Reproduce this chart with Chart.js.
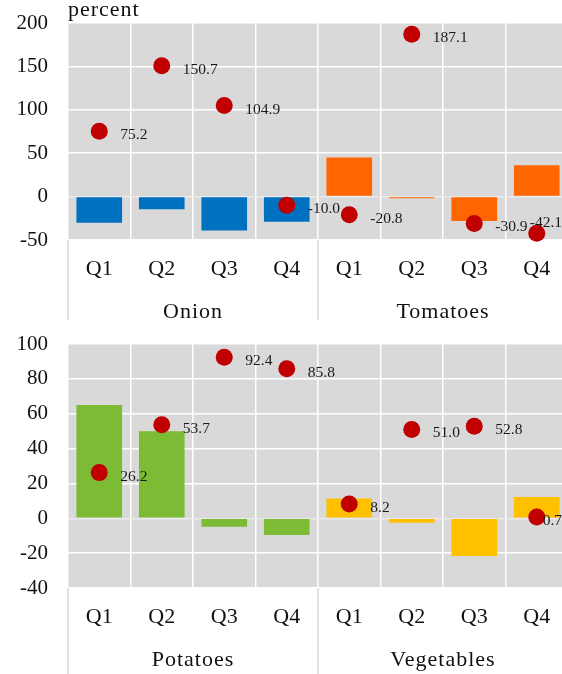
<!DOCTYPE html>
<html>
<head>
<meta charset="utf-8">
<script src="https://cdn.jsdelivr.net/npm/chart.js@4.4.1/dist/chart.umd.min.js"></script>
<style>
  html, body { margin: 0; padding: 0; background: #fff; overflow: hidden; }
  #wrap { width: 562px; height: 674px; overflow: hidden; position: relative; }
  canvas { position: absolute; left: 0; display: block; }
</style>
</head>
<body>
<div id="wrap">
  <canvas id="topChart" width="568" height="330" style="top:0;width:568px;height:330px"></canvas>
  <canvas id="bottomChart" width="568" height="344" style="top:330px;width:568px;height:344px"></canvas>
</div>
<script>
// Quarterly changes (bars) and year-on-year changes (dots), percent
const quarters = ['Q1', 'Q2', 'Q3', 'Q4'];
const topGroups = ['Onion', 'Tomatoes'];
const bottomGroups = ['Potatoes', 'Vegetables'];

const onionBars = [-30, -14.5, -39, -29];
const onionDots = [75.2, 150.7, 104.9, -10.0];
const tomatoBars = [45, -2, -28, 36];
const tomatoDots = [-20.8, 187.1, -30.9, -42.1];

const potatoBars = [65, 50, -4.8, -9.6];
const potatoDots = [26.2, 53.7, 92.4, 85.8];
const vegBars = [11.3, -2.5, -21.7, 12.2];
const vegDots = [8.2, 51.0, 52.8, 0.7];

const topTicks = { min: -50, max: 200, step: 50 };
const bottomTicks = { min: -40, max: 100, step: 20 };

const FONT = '"Liberation Serif", "DejaVu Serif", serif';
const VISIBLE_WIDTH = 562;

// Gray plotting area
const plotBackground = {
  id: 'plotBackground',
  beforeDraw(chart) {
    const { ctx, chartArea: a } = chart;
    ctx.save();
    ctx.letterSpacing = '0px';
    ctx.fillStyle = '#d9d9d9';
    ctx.fillRect(a.left, a.top, a.right - a.left, a.bottom - a.top);
    ctx.restore();
  }
};

// Group names under the quarter labels, plus separators between groups
const groupAxis = {
  id: 'groupAxis',
  afterDraw(chart, args, opts) {
    const { ctx, chartArea: a, scales: { x } } = chart;
    const groups = opts.groups;
    const n = quarters.length;
    ctx.save();
    ctx.strokeStyle = '#d9d9d9';
    ctx.lineWidth = 1.5;
    const edges = [];
    for (let g = 0; g <= groups.length; g++) {
      const i = g * n;
      let px;
      if (i === 0) px = a.left;
      else if (i >= x.ticks.length) px = a.right;
      else px = (x.getPixelForValue(i - 1) + x.getPixelForValue(i)) / 2;
      edges.push(px);
      ctx.beginPath();
      ctx.moveTo(px, a.bottom);
      ctx.lineTo(px, a.bottom + opts.sepLength);
      ctx.stroke();
    }
    ctx.fillStyle = '#111';
    ctx.font = '22px ' + FONT;
    ctx.letterSpacing = '1px';
    ctx.textAlign = 'center';
    ctx.textBaseline = 'middle';
    groups.forEach((name, g) => {
      const c = (edges[g] + edges[g + 1]) / 2;
      ctx.fillText(name, c, a.bottom + 72);
    });
    if (opts.unit) {
      ctx.textAlign = 'left';
      ctx.textBaseline = 'alphabetic';
      ctx.fillText(opts.unit, a.left, 16);
    }
    ctx.letterSpacing = '0px';
    ctx.restore();
  }
};

// Value labels beside the dots
const dotLabels = {
  id: 'dotLabels',
  afterDatasetsDraw(chart) {
    const { ctx } = chart;
    const meta = chart.getDatasetMeta(0);
    const values = chart.data.datasets[0].data;
    ctx.save();
    ctx.letterSpacing = '0px';
    ctx.font = '15.5px ' + FONT;
    ctx.fillStyle = '#1a1a1a';
    ctx.textBaseline = 'middle';
    ctx.textAlign = 'left';
    meta.data.forEach((pt, i) => {
      const text = values[i].toFixed(1);
      const w = ctx.measureText(text).width;
      let lx = pt.x + 21;
      let ly = pt.y + 4;
      const over = lx + w - VISIBLE_WIDTH;
      if (over > 0) {
        lx -= over;
        if (over > 20) ly = pt.y - 10;
      }
      ctx.fillText(text, lx, ly);
    });
    ctx.restore();
  }
};

function makeChart(id, groups, bars, dots, colors, range, pad, axisHeight, sepLength, unit) {
  const labels = groups.flatMap(() => quarters);
  const barData = bars.flat();
  const dotData = dots.flat();
  const barColors = barData.map((_, i) => colors[Math.floor(i / quarters.length)]);
  return new Chart(document.getElementById(id), {
    data: {
      labels,
      datasets: [
        {
          type: 'line',
          data: dotData,
          showLine: false,
          pointRadius: 8.5,
          pointHoverRadius: 8.5,
          pointBackgroundColor: '#c00000',
          pointBorderWidth: 0,
          clip: false,
          order: 0
        },
        {
          type: 'bar',
          data: barData,
          backgroundColor: barColors,
          borderWidth: 0,
          categoryPercentage: 1,
          barPercentage: 0.73,
          order: 1
        }
      ]
    },
    options: {
      responsive: false,
      animation: false,
      events: [],
      devicePixelRatio: 1,
      layout: { autoPadding: false, padding: { top: pad, left: 0, right: 0, bottom: 0 } },
      plugins: {
        legend: { display: false },
        tooltip: { enabled: false },
        groupAxis: { groups, sepLength, unit }
      },
      scales: {
        x: {
          type: 'category',
          offset: true,
          border: { display: false },
          grid: { offset: true, color: '#ffffff', lineWidth: 1.5, drawTicks: false },
          ticks: { color: '#111', font: { family: FONT, size: 22 }, padding: 16, maxRotation: 0, autoSkip: false },
          afterFit(axis) {
            axis.height = axisHeight;
            axis.paddingLeft = 0;
            axis.paddingRight = 0;
          }
        },
        y: {
          min: range.min,
          max: range.max,
          border: { display: false },
          grid: {
            color: (c) => (c.tick && c.tick.value === 0 ? '#ebebeb' : '#ffffff'),
            lineWidth: 1.5,
            drawTicks: false
          },
          ticks: { stepSize: range.step, color: '#111', font: { family: FONT, size: 21 }, padding: 20 },
          afterFit(axis) {
            axis.width = 68;
            axis.paddingTop = 0;
            axis.paddingBottom = 0;
          }
        }
      }
    },
    plugins: [plotBackground, groupAxis, dotLabels]
  });
}

makeChart('topChart', topGroups, [onionBars, tomatoBars], [onionDots, tomatoDots],
  ['#0070c0', '#ff6600'], topTicks, 23, 90, 80, 'percent');
makeChart('bottomChart', bottomGroups, [potatoBars, vegBars], [potatoDots, vegDots],
  ['#7cbb33', '#ffc000'], bottomTicks, 14, 86, 86, null);
</script>
</body>
</html>
